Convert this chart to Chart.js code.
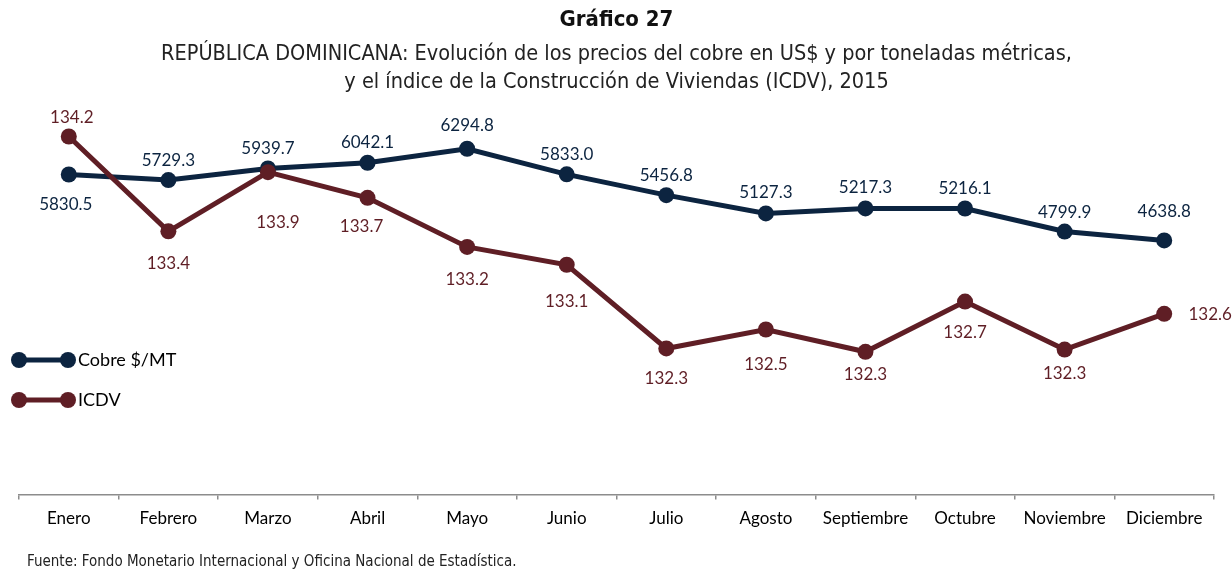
<!DOCTYPE html>
<html>
<head>
<meta charset="utf-8">
<script src="https://cdn.jsdelivr.net/npm/chart.js@4/dist/chart.umd.min.js"></script>
<style>
    html, body { margin: 0; padding: 0; background: #fff; }
</style>
</head>
<body>
<canvas id="grafico" width="1232" height="570"></canvas>
<script>
// meses del eje x
const meses = ['Enero', 'Febrero', 'Marzo', 'Abril', 'Mayo', 'Junio', 'Julio', 'Agosto', 'Septiembre', 'Octubre', 'Noviembre', 'Diciembre']

// precio del cobre, US$ por tonelada métrica
const cobre = [5830.5, 5729.3, 5939.7, 6042.1, 6294.8, 5833.0, 5456.8, 5127.3, 5217.3, 5216.1, 4799.9, 4638.8]

// índice de la construcción de viviendas
const icdv = [134.21, 133.36, 133.89, 133.66, 133.22, 133.06, 132.31, 132.48, 132.28, 132.73, 132.30, 132.62]

// textos
const titulo = 'Gráfico 27'
const subtitulo = [
    'REPÚBLICA DOMINICANA: Evolución de los precios del cobre en US$ y por toneladas métricas,',
    'y el índice de la Construcción de Viviendas (ICDV), 2015'
]
const fuente = 'Fuente: Fondo Monetario Internacional y Oficina Nacional de Estadística.'

// colores
const azul = '#0c2440'
const vino = '#5f1e25'

// fuentes
const estrecha = "'DejaVu Sans Condensed', sans-serif"
const normal = "Lato, 'Open Sans', sans-serif"

// desplazamiento de las etiquetas [dx, dy] respecto al punto
const despCobre = [[-3, 30], [0, -20], [0, -20], [0, -20], [0, -23], [0, -20], [0, -20], [0, -21], [0, -21], [0, -20], [0, -19], [0, -29]]
const despIcdv = [[3, -19], [0, 32], [10, 50], [-6, 29], [0, 33], [0, 37], [0, 30], [0, 35], [0, 23], [0, 31], [0, 24], [46, 1]]

// plugin: etiquetas de datos
const etiquetas = {
    id: 'etiquetas',
    afterDatasetsDraw(chart) {
        const ctx = chart.ctx
        ctx.save()
        ctx.font = '17px ' + normal
        ctx.textAlign = 'center'
        ctx.textBaseline = 'middle'
        chart.data.datasets.forEach((ds, i) => {
            const meta = chart.getDatasetMeta(i)
            const desp = ds.label === 'ICDV' ? despIcdv : despCobre
            ctx.fillStyle = ds.borderColor
            meta.data.forEach((p, j) => {
                ctx.fillText(ds.data[j].toFixed(1), p.x + desp[j][0], p.y + desp[j][1])
            })
        })
        ctx.restore()
    }
}

// plugin: leyenda y fuente
const extras = {
    id: 'extras',
    afterDraw(chart) {
        const ctx = chart.ctx
        ctx.save()
        // leyenda
        const orden = [1, 0]
        orden.forEach((i, k) => {
            const ds = chart.data.datasets[i]
            const y = 360 + k * 40
            ctx.strokeStyle = ds.borderColor
            ctx.fillStyle = ds.borderColor
            ctx.lineWidth = 5
            ctx.beginPath()
            ctx.moveTo(19, y)
            ctx.lineTo(68, y)
            ctx.stroke()
            ;[19, 68].forEach(x => {
                ctx.beginPath()
                ctx.arc(x, y, 8, 0, Math.PI * 2)
                ctx.fill()
            })
            ctx.fillStyle = '#000'
            ctx.font = '18px ' + normal
            ctx.textAlign = 'left'
            ctx.textBaseline = 'middle'
            ctx.fillText(ds.label, 78, y)
        })
        // fuente
        ctx.fillStyle = '#222'
        ctx.font = '15px ' + estrecha
        ctx.textAlign = 'left'
        ctx.textBaseline = 'middle'
        ctx.fillText(fuente, 27, 562)
        ctx.restore()
    }
}

const canvas = document.getElementById('grafico')
const ctx = canvas.getContext('2d')

const grafico = new Chart(ctx, {
    type: 'line',
    data: {
        labels: meses,
        datasets: [
            {
                label: 'ICDV',
                data: icdv,
                yAxisID: 'y1',
                order: 0,
                borderColor: vino,
                backgroundColor: vino,
                borderWidth: 5,
                pointRadius: 8,
                pointBorderWidth: 0,
                tension: 0
            },
            {
                label: 'Cobre $/MT',
                data: cobre,
                yAxisID: 'y',
                order: 1,
                borderColor: azul,
                backgroundColor: azul,
                borderWidth: 5,
                pointRadius: 8,
                pointBorderWidth: 0,
                tension: 0
            }
        ]
    },
    options: {
        responsive: false,
        animation: false,
        devicePixelRatio: 1,
        clip: false,
        layout: { padding: { left: 19, right: 18, bottom: 32 } },
        plugins: {
            legend: { display: false },
            tooltip: { enabled: false },
            title: {
                display: true,
                text: titulo,
                color: '#111',
                font: { family: estrecha, size: 22, weight: 'bold', lineHeight: 1.2 },
                padding: { top: 7, bottom: 1.4 }
            },
            subtitle: {
                display: true,
                text: subtitulo,
                color: '#222',
                font: { family: estrecha, size: 21.5, lineHeight: 1.3 },
                padding: { top: 6, bottom: 13 }
            }
        },
        scales: {
            x: {
                offset: true,
                border: { display: true, color: '#8c8c8c', width: 1.5 },
                grid: { offset: true, drawOnChartArea: false, drawTicks: true, tickLength: 5, color: '#8c8c8c', lineWidth: 1.5 },
                ticks: { color: '#000', font: { family: normal, size: 17 }, padding: 9, maxRotation: 0, autoSkip: false }
            },
            y: { display: false, min: 50, max: 7000 },
            y1: { display: false, min: 131.0, max: 134.45 }
        }
    },
    plugins: [etiquetas, extras]
})
</script>
</body>
</html>
